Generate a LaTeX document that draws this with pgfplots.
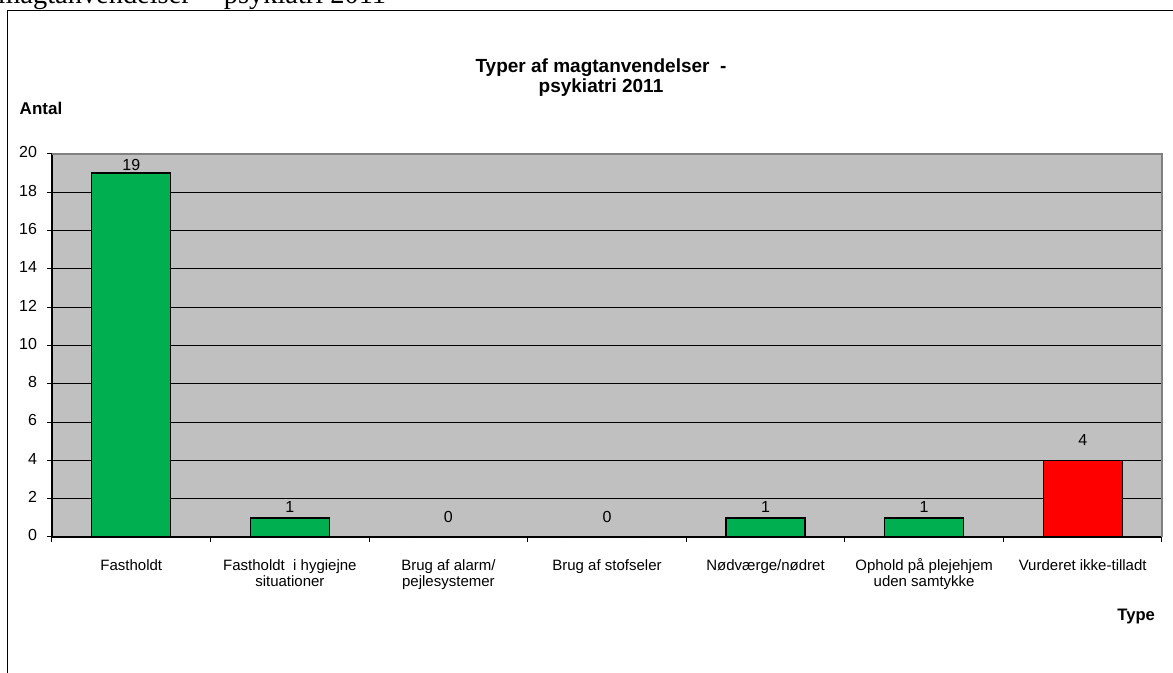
\documentclass[border=0pt]{standalone}
\usepackage{fontspec}
\setmainfont{Liberation Sans}
\newfontfamily\timesfont{Liberation Serif}
\usepackage{pgfplots}
\pgfplotsset{compat=1.18}
\definecolor{plotgray}{HTML}{C0C0C0}
\definecolor{bordergray}{HTML}{808080}
\definecolor{xlgreen}{HTML}{00B050}
\definecolor{xlred}{HTML}{FF0000}
\begin{document}
\begin{tikzpicture}
\path[use as bounding box] (0pt,0pt) rectangle (586.5pt,-336.5pt);
\begin{scope}[x=0.5pt,y=-0.5pt]
  % cut-off text above the chart frame
  \node[anchor=base west, inner sep=0pt, font=\timesfont\fontsize{14.2}{16}\selectfont] at (-2,4) {magtanvendelser -- psykiatri 2011};
  % chart frame
  \draw[line width=0.6pt] (7.5,700) -- (7.5,10.5) -- (1200,10.5);
  % title
  \node[align=center, font=\bfseries\fontsize{9.5}{10}\selectfont] at (601,78) {Typer af magtanvendelser \ -\\psykiatri 2011};
  % axis titles
  \node[font=\bfseries\fontsize{8.5}{10}\selectfont] at (41,108) {Antal};
  \node[anchor=east, font=\bfseries\fontsize{8.3}{10}\selectfont] at (1162,617) {Type};
\end{scope}
\begin{axis}[
  at={(26pt,-77pt)}, anchor=north west,
  scale only axis, width=555pt, height=191.5pt,
  xmin=-0.5, xmax=6.5, ymin=0, ymax=20,
  axis x line*=bottom, axis y line*=left,
  axis line style={black, line width=0.6pt},
  axis background/.style={fill=plotgray},
  ytick={0,2,...,20},
  xtick={0,...,6},
  xticklabels={Fastholdt, Fastholdt \ i hygiejne\\situationer, Brug af alarm/\\pejlesystemer, Brug af stofseler, Nødværge/nødret, Ophold p\smash{å} plejehjem\\uden samtykke, Vurderet ikke-tilladt},
  typeset ticklabels with strut,
  minor xtick={-0.5,0.5,...,6.5},
  major x tick style={draw=none},
  minor x tick style={black, line width=0.5pt},
  y tick style={black, line width=0.5pt},
  major tick length=2.5pt, minor tick length=2.5pt,
  tick align=outside,
  ymajorgrids, grid style={black, line width=0.5pt},
  /pgf/number format/assume math mode=true,
  yticklabel style={font=\fontsize{8}{9.6}\selectfont, xshift=-1.5pt},
  xticklabel style={font=\fontsize{7.5}{8}\selectfont, align=center, yshift=-5pt},
  bar width=39.5pt,
  clip=false,
]
\addplot[ybar, fill=xlgreen, draw=black, line width=0.7pt] coordinates {(0,19) (1,1) (2,0) (3,0) (4,1) (5,1)};
\addplot[ybar, fill=xlred, draw=black, line width=0.7pt] coordinates {(6,4)};
% value labels
\addplot[draw=none, mark=none, nodes near coords, point meta=explicit symbolic,
  every node near coord/.style={anchor=center, inner sep=0pt, font=\fontsize{8}{9.6}\selectfont}]
  coordinates {(0,19.45) [19] (1,1.57) [1] (2,1.04) [0] (3,1.04) [0] (4,1.57) [1] (5,1.57) [1] (6,5.07) [4]};
\draw[bordergray, line width=0.7pt] (rel axis cs:0,1) -- (rel axis cs:1,1) -- (rel axis cs:1,0);
\end{axis}
\end{tikzpicture}
\end{document}
